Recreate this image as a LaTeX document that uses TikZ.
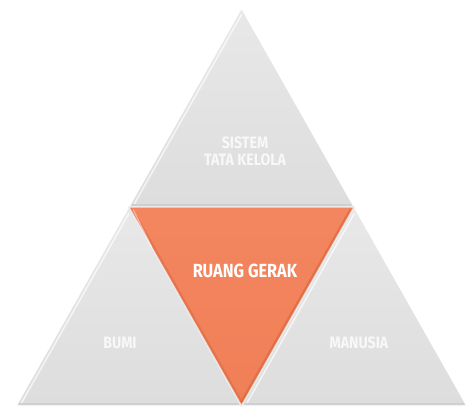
\documentclass[tikz,border=0pt]{standalone}
\usepackage{fontspec}
\setmainfont{Fira Sans}[FakeStretch=0.86]
\usetikzlibrary{calc}
\definecolor{greyTop}{HTML}{E8E8E8}
\definecolor{greyBot}{HTML}{DDDDDD}
\definecolor{greyEdge}{HTML}{C2C2C2}
\definecolor{orangeMain}{HTML}{F07F56}
\definecolor{orangeLight}{HTML}{F38660}
\definecolor{orangeDark}{HTML}{D5633B}
\definecolor{labelGrey}{HTML}{F8F8F8}
\tikzset{
  piece/.style={draw=white, line width=1.2pt, line join=round},
  greypiece/.style={piece, top color=greyTop, bottom color=greyBot},
  orangepiece/.style={piece, draw=greyTop, top color=orangeLight, bottom color=orangeMain},
  lit/.style={white, opacity=0.65, line width=1.6pt, line cap=round},
  shade edge/.style={greyEdge, opacity=0.5, line width=1.4pt, line cap=round},
  orange edge/.style={orangeDark, opacity=0.6, line width=1.8pt, line cap=round},
  small label/.style={text=labelGrey, font=\fontsize{16.5}{17}\selectfont\bfseries, align=center, inner sep=0pt},
  big label/.style={text=white, font=\fontsize{19}{20}\selectfont\bfseries, inner sep=0pt}
}
\begin{document}
\begin{tikzpicture}[x=1pt,y=-1pt]
\useasboundingbox (0,0) rectangle (467,407);
% corner points of the large triangle and its edge midpoints
\coordinate (A)  at (241.5,8);
\coordinate (BL) at (16,406);
\coordinate (BR) at (467,406);
\coordinate (ML) at ($(A)!0.5!(BL)$);
\coordinate (MR) at ($(A)!0.5!(BR)$);
\coordinate (BM) at ($(BL)!0.5!(BR)$);

% three grey corner pieces
\path[greypiece] (A) -- (ML) -- (MR) -- cycle;
\path[greypiece] (ML) -- (BL) -- (BM) -- cycle;
\path[greypiece] (MR) -- (BM) -- (BR) -- cycle;

% soft bevel: light left edges, darker lower edges
\coordinate (Tc) at ($1/3*(A)+1/3*(ML)+1/3*(MR)$);
\coordinate (Lc) at ($1/3*(ML)+1/3*(BL)+1/3*(BM)$);
\coordinate (Rc) at ($1/3*(MR)+1/3*(BM)+1/3*(BR)$);
\draw[lit] ($(A)!0.05!(Tc)$) -- ($(ML)!0.05!(Tc)$);
\draw[shade edge] ($(ML)!0.03!(Tc)$) -- ($(MR)!0.03!(Tc)$);
\draw[lit] ($(ML)!0.05!(Lc)$) -- ($(BL)!0.05!(Lc)$);
\draw[shade edge] ($(BL)!0.03!(Lc)$) -- ($(BM)!0.03!(Lc)$);
\draw[lit] ($(MR)!0.05!(Rc)$) -- ($(BM)!0.05!(Rc)$);
\draw[shade edge] ($(BM)!0.03!(Rc)$) -- ($(BR)!0.03!(Rc)$);

% central orange piece
\path[orangepiece] (ML) -- (MR) -- (BM) -- cycle;
\coordinate (Cc) at ($1/3*(ML)+1/3*(MR)+1/3*(BM)$);
\draw[orange edge] ($(MR)!0.035!(Cc)$) -- ($(BM)!0.035!(Cc)$);
\draw[orange edge, opacity=0.45] ($(ML)!0.035!(Cc)$) -- ($(BM)!0.035!(Cc)$);
\draw[white, opacity=0.45, line width=1.4pt, line cap=round] ($(ML)!0.04!(Cc)$) -- ($(ML)!0.2!(BM)$);

% labels
\node[small label] (sistem) at (245,151) {SISTEM\\TATA KELOLA};
\node[big label] (ruang) at (245,271) {RUANG GERAK};
\node[small label] (bumi) at (120,343) {BUMI};
\node[small label] (manusia) at (359,343) {MANUSIA};
\end{tikzpicture}
\end{document}
